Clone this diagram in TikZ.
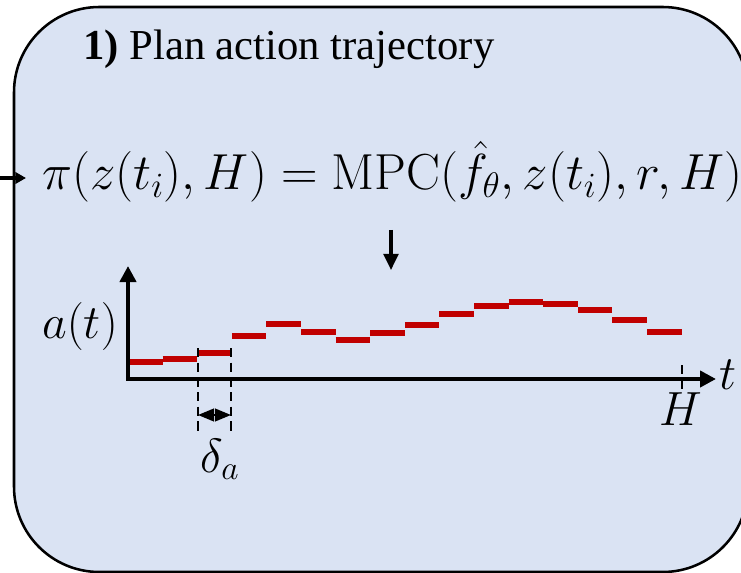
\RequirePackage{fix-cm}
\documentclass[tikz,border=0pt]{standalone}
\usepackage[no-math]{fontspec}
\setmainfont{Liberation Serif}
\usetikzlibrary{arrows.meta, positioning}
\definecolor{panelblue}{HTML}{DAE3F3}
\definecolor{planred}{HTML}{C00000}

\begin{document}
\begin{tikzpicture}[
    x=0.75pt, y=-0.75pt,
    panel/.style={draw=black, line width=1.9pt, fill=panelblue, rounded corners=64pt},
    axis/.style={line width=3pt, -{Triangle[length=12pt, width=12pt]}},
    arr/.style={line width=2.3pt, -{Triangle[length=12pt, width=11pt]}},
    span/.style={line width=1.5pt, dash pattern=on 7pt off 4pt},
    stepseg/.style={planred, line width=4.5pt},
    lbl/.style={inner sep=0pt, font=\fontsize{36}{42}\selectfont}
]
    \useasboundingbox (0,0) rectangle (741,573);
    \clip (0,0) rectangle (741,573);

    % panel
    \draw[panel] (14,7) rectangle (748,572);
    \node[anchor=base west, inner sep=0pt, font=\fontsize{32}{38}\selectfont] (title) at (83,60)
        {\textbf{1)} Plan action trajectory};

    % MPC equation
    \node[anchor=base west, inner ysep=0pt, inner xsep=12pt, font=\fontsize{38}{44}\selectfont] (mpc) at (26,190)
        {$\pi(z(t_i),H)=\mathrm{MPC}(\hat{f}_\theta,z(t_i),r,H)$};
    \coordinate (src) at (0,178);
    \draw[arr, -{Triangle[length=8pt, width=8.5pt]}] (src) -- (src -| mpc.west);
    \coordinate (dtop) at (391,230);
    \coordinate (dbot) at (391,270);
    \draw[arr] (dtop) -- (dbot);

    % action plot
    \coordinate (O) at (128,379);
    \coordinate (ytop) at (128,266);
    \coordinate (xend) at (716,379);
    \foreach \yv [count=\i from 0] in {362,359,353,336,324,332,340,333,325,314,306,302,304,310,320,332}
        \draw[stepseg] (128+34.6*\i,\yv) -- (128+34.6*\i+34.6,\yv);
    \draw[axis] (O) -- (ytop);
    \draw[axis] ([xshift=-1.5pt]O) -- (xend);
    \draw[span] (682,365) -- (682,389);
    \draw[span] (198,348) -- (198,433);
    \draw[span] (231,348) -- (231,433);
    \coordinate (dl) at (198,415);
    \coordinate (dr) at (231,415);
    \draw[line width=1.5pt, {Triangle[length=12pt, width=9.5pt]}-{Triangle[length=12pt, width=9.5pt]}] (dl) -- (dr);

    \node[lbl, anchor=base] (alab) at (80,338) {$a(t)$};
    \node[lbl, anchor=base west] (tlab) at (719,389) {$t$};
    \node[lbl, anchor=base] (hlab) at (681,425) {$H$};
    \node[lbl, anchor=base] (dlab) at (220,472) {$\delta_a$};
\end{tikzpicture}
\end{document}
